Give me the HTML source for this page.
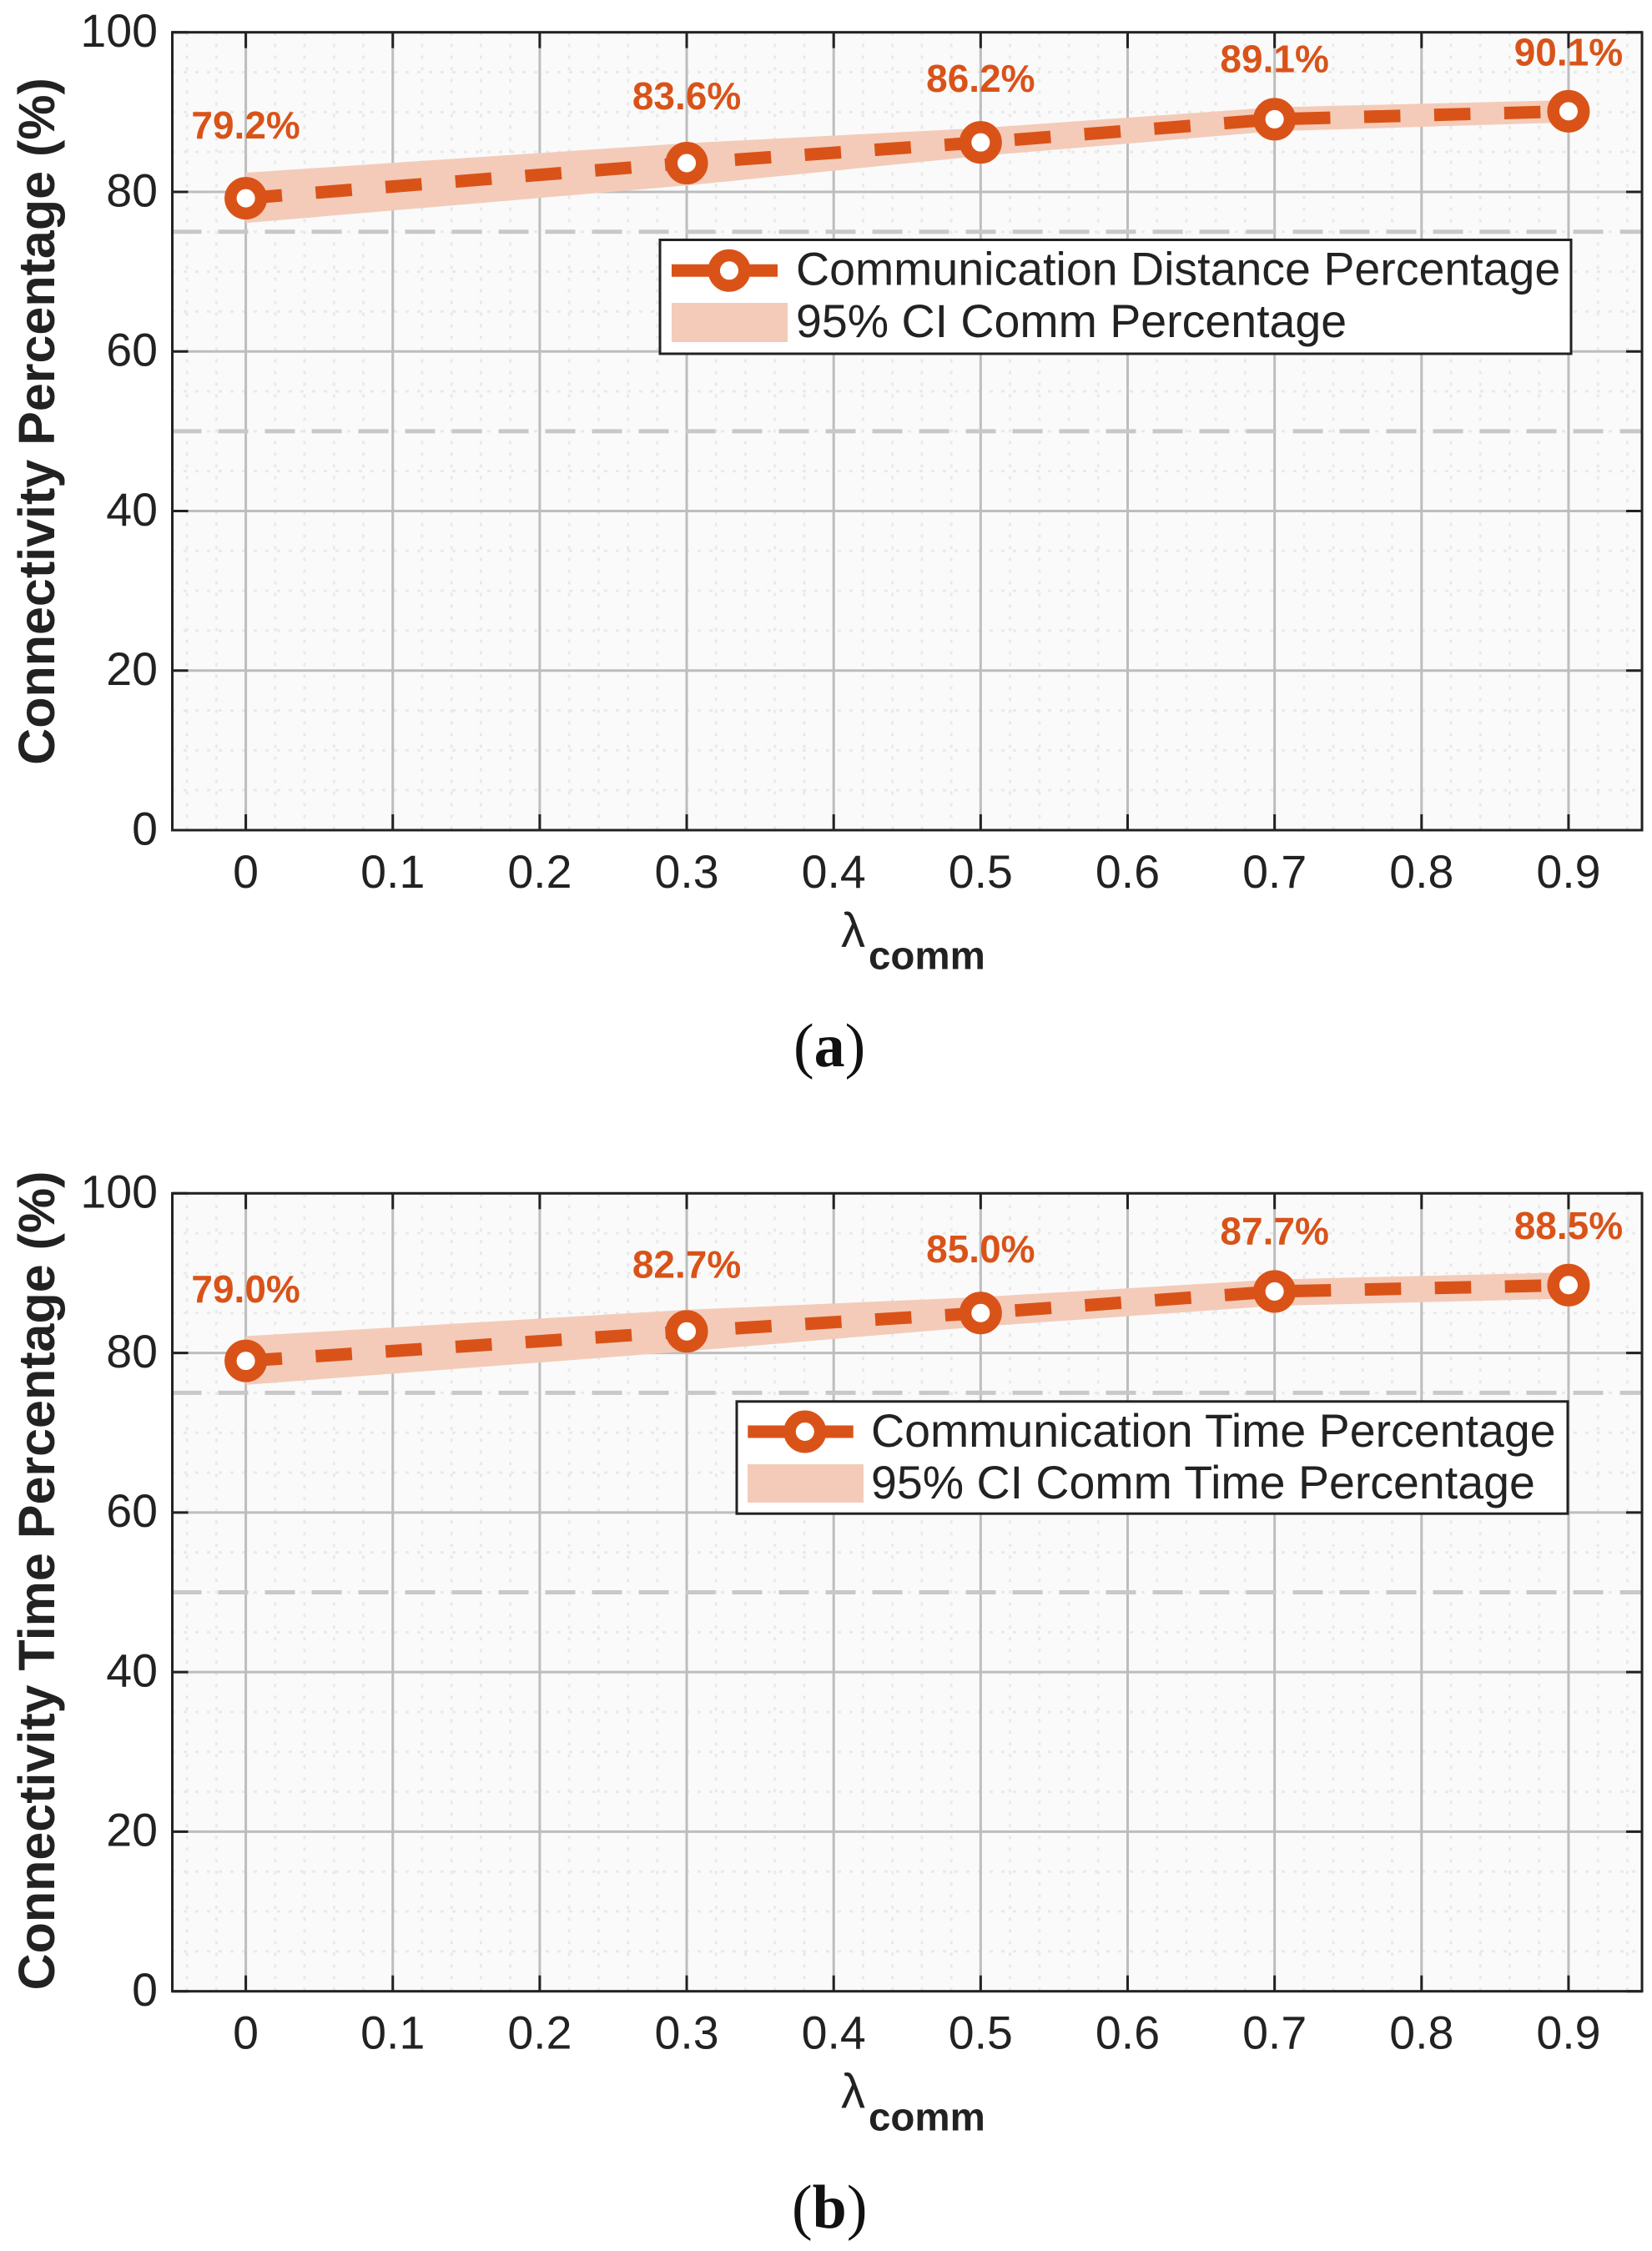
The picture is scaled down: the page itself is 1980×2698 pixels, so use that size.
<!DOCTYPE html>
<html lang="en">
<head>
<meta charset="utf-8">
<title>Connectivity percentage charts</title>
<style>
html,body{margin:0;padding:0;background:#fff;}
svg{display:block;}
text{font-family:"Liberation Sans",sans-serif;fill:#222;}
.caption{font-family:"Liberation Serif",serif;font-size:74px;fill:#111;}
.legend-text{font-size:55.5px;}
.y-title{font-size:61px;font-weight:bold;}
</style>
</head>
<body>
<svg xmlns="http://www.w3.org/2000/svg" width="1980" height="2698" viewBox="0 0 1980 2698">
  <g>
    <g id="plot-a"></g>
    <text class="y-title" transform="translate(65 505) rotate(-90)" text-anchor="middle">Connectivity Percentage (%)</text>
    <text x="1008" y="1135" font-size="58">λ</text>
    <text x="1041" y="1161.7" font-weight="bold" font-size="47.5">comm</text>
    <g>
      <rect x="791" y="287.5" width="1092" height="136.5" fill="#fff" stroke="#222" stroke-width="3"/>
      <line x1="805" x2="932" y1="324.3" y2="324.3" stroke="#d95319" stroke-width="15"/>
      <circle cx="874" cy="324.3" r="18.25" fill="#fff" stroke="#d95319" stroke-width="14.5"/>
      <rect x="805" y="363" width="139" height="47" fill="#f4cbb9"/>
      <text class="legend-text" x="954" y="341.7">Communication Distance Percentage</text>
      <text class="legend-text" x="954" y="404">95% CI Comm Percentage</text>
    </g>
    <text class="caption" x="951" y="1278">(<tspan font-weight="bold">a</tspan>)</text>
  </g>
  <g>
    <g id="plot-b"></g>
    <text class="y-title" transform="translate(65 1894.5) rotate(-90)" text-anchor="middle">Connectivity Time Percentage (%)</text>
    <text x="1008" y="2526.7" font-size="58">λ</text>
    <text x="1041" y="2553.4" font-weight="bold" font-size="47.5">comm</text>
    <g>
      <rect x="883" y="1679.8" width="996" height="134.4" fill="#fff" stroke="#222" stroke-width="3"/>
      <line x1="896.3" x2="1022.7" y1="1716" y2="1716" stroke="#d95319" stroke-width="15"/>
      <circle cx="964.8" cy="1716" r="18.25" fill="#fff" stroke="#d95319" stroke-width="14.5"/>
      <rect x="896" y="1755" width="139" height="46" fill="#f4cbb9"/>
      <text class="legend-text" x="1044" y="1734">Communication Time Percentage</text>
      <text class="legend-text" x="1044" y="1796">95% CI Comm Time Percentage</text>
    </g>
    <text class="caption" x="949" y="2670">(<tspan font-weight="bold">b</tspan>)</text>
  </g>
</svg>
<script>
const lambdaValues = [0, 0.3, 0.5, 0.7, 0.9];
const distancePct = [79.2, 83.6, 86.2, 89.1, 90.1];
const distanceUpper = [82.4, 86.1, 88.0, 90.6, 91.5];
const distanceLower = [76.1, 80.8, 84.5, 87.6, 88.7];
const timePct = [79.0, 82.7, 85.0, 87.7, 88.5];
const timeUpper = [82.1, 85.4, 87.0, 89.2, 90.1];
const timeLower = [76.0, 80.2, 83.3, 85.9, 86.8];
const xTickValues = [0, 0.1, 0.2, 0.3, 0.4, 0.5, 0.6, 0.7, 0.8, 0.9];
const xTickLabels = ['0', '0.1', '0.2', '0.3', '0.4', '0.5', '0.6', '0.7', '0.8', '0.9'];
const yTickValues = [0, 20, 40, 60, 80, 100];
const yTickLabels = ['0', '20', '40', '60', '80', '100'];
const referenceLevels = [75, 50];

const NS = 'http://www.w3.org/2000/svg';
const ORANGE = '#d95319';

function xScale(v) {
  return 294.6 + v * 1761.5;
}

function make(parent, tag, attrs) {
  const el = document.createElementNS(NS, tag);
  for (const key in attrs) el.setAttribute(key, attrs[key]);
  parent.appendChild(el);
  return el;
}

function drawPanel(rootId, values, upper, lower, top, bottom, labelBias) {
  const root = document.getElementById(rootId);
  const yScale = function (v) {
    return bottom - v * (bottom - top) / 100;
  };
  const left = xScale(-0.05);
  const right = xScale(0.95);

  const bg = make(root, 'rect', { x: left, y: top, width: right - left, height: bottom - top, fill: '#fafafa' });
  
  

  // minor grid (vertical every 0.02, horizontal every 5)
  for (let i = -2; i <= 47; i++) {
    if (((i % 5) + 5) % 5 === 0) continue;
    const mx = xScale(i * 0.02);
    const minorV = make(root, 'line', { x1: mx, x2: mx, y1: bottom, y2: top, stroke: '#e9e9e9', 'stroke-width': 3, 'stroke-dasharray': '4 10', 'stroke-dashoffset': -0.5 });
    
    
  }
  for (let v = 5; v < 100; v += 5) {
    if (v % 20 === 0) continue;
    const my = yScale(v);
    const minorH = make(root, 'line', { x1: left + 1.5, x2: right, y1: my, y2: my, stroke: '#e9e9e9', 'stroke-width': 3, 'stroke-dasharray': '4 10', 'stroke-dashoffset': -12 });
    
    
  }

  // major grid
  xTickValues.forEach(function (v) {
    const gridV = make(root, 'line', { x1: xScale(v), x2: xScale(v), y1: top, y2: bottom, stroke: '#bdbdbd', 'stroke-width': 3 });
    
    
  });
  yTickValues.forEach(function (v) {
    const gridH = make(root, 'line', { x1: left, x2: right, y1: yScale(v), y2: yScale(v), stroke: '#bdbdbd', 'stroke-width': 3 });
    
    
  });

  // reference lines
  referenceLevels.forEach(function (v) {
    const ref = make(root, 'line', { x1: left - 1, x2: right + 1, y1: yScale(v), y2: yScale(v), stroke: '#c8c8c8', 'stroke-width': 5, 'stroke-dasharray': '36 20' });
    
    
  });

  // ticks on all four sides
  xTickValues.forEach(function (v, i) {
    const tx = xScale(v);
    const tickB = make(root, 'line', { x1: tx, x2: tx, y1: bottom, y2: bottom - 19, stroke: '#222', 'stroke-width': 3 });
    
    
    const tickT = make(root, 'line', { x1: tx, x2: tx, y1: top, y2: top + 19, stroke: '#222', 'stroke-width': 3 });
    
    
    const label = make(root, 'text', { x: tx, y: bottom + 69, 'text-anchor': 'middle', 'font-size': 55.5 });
    label.textContent = xTickLabels[i];
    
    
  });
  yTickValues.forEach(function (v, i) {
    const ty = yScale(v);
    const tickL = make(root, 'line', { x1: left, x2: left + 19, y1: ty, y2: ty, stroke: '#222', 'stroke-width': 3 });
    
    
    const tickR = make(root, 'line', { x1: right, x2: right - 19, y1: ty, y2: ty, stroke: '#222', 'stroke-width': 3 });
    
    
    const label = make(root, 'text', { x: 189, y: ty + 17.3, 'text-anchor': 'end', 'font-size': 55.5 });
    label.textContent = yTickLabels[i];
    
    
  });

  // confidence band
  const upperPts = lambdaValues.map(function (v, i) { return xScale(v) + ',' + yScale(upper[i]); });
  const lowerPts = lambdaValues.map(function (v, i) { return xScale(v) + ',' + yScale(lower[i]); }).reverse();
  const band = make(root, 'polygon', { points: upperPts.concat(lowerPts).join(' '), fill: '#f4cbb9' });
  
  

  // dashed mean line
  const linePts = lambdaValues.map(function (v, i) { return xScale(v) + ',' + yScale(values[i]); }).join(' ');
  const line = make(root, 'polyline', { points: linePts, fill: 'none', stroke: ORANGE, 'stroke-width': 15, 'stroke-dasharray': '43.5 40.5' });
  
  

  // markers and value labels
  lambdaValues.forEach(function (v, i) {
    const marker = make(root, 'circle', { cx: xScale(v), cy: yScale(values[i]), r: 18.25, fill: '#fff', stroke: ORANGE, 'stroke-width': 14.5 });
    
    
    const valueLabel = make(root, 'text', { x: xScale(v), y: yScale(0.837 * values[i] + 20.4 + labelBias), 'text-anchor': 'middle', 'font-size': 46, 'font-weight': 'bold', style: 'fill:' + ORANGE });
    valueLabel.textContent = values[i].toFixed(1) + '%';
    
    
  });

  // axes box
  const box = make(root, 'rect', { x: left, y: top, width: right - left, height: bottom - top, fill: 'none', stroke: '#222', 'stroke-width': 3 });
  
  
}

drawPanel('plot-a', distancePct, distanceUpper, distanceLower, 38.7, 995, 0);
drawPanel('plot-b', timePct, timeUpper, timeLower, 1430.3, 2386.7, -0.2);
</script>
</body>
</html>
